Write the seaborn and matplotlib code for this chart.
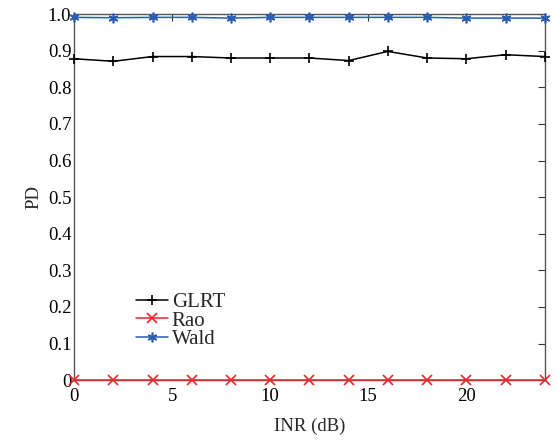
import numpy as np
import pandas as pd
import matplotlib
matplotlib.use('Agg')
import matplotlib.pyplot as plt
import seaborn as sns

# dados
inr = [0, 2, 4, 6, 8, 10, 12, 14, 16, 18, 20, 22, 24]
pd_glrt = [0.878, 0.871, 0.884, 0.884, 0.880, 0.880, 0.880, 0.873, 0.898, 0.880, 0.878, 0.889, 0.884]
pd_rao = [0, 0, 0, 0, 0, 0, 0, 0, 0, 0, 0, 0, 0]
pd_wald = [0.991, 0.990, 0.991, 0.991, 0.989, 0.991, 0.991, 0.991, 0.991, 0.991, 0.989, 0.989, 0.989]

series = ['GLRT', 'Rao', 'Wald']
df = pd.DataFrame({
    'INR': inr * 3,
    'PD': pd_glrt + pd_rao + pd_wald,
    'det': np.repeat(series, len(inr)),
})

sns.set_style('white')
plt.rcParams['font.family'] = ['Liberation Serif', 'DejaVu Serif']

fig = plt.figure(figsize=(5.57, 4.4), dpi=100)
ax = fig.add_axes([0.133, 0.136, 0.845, 0.832])

cores = {'GLRT': 'black', 'Rao': '#e8262a', 'Wald': '#2a5db0'}
marcas = {'GLRT': '+', 'Rao': 'x', 'Wald': (6, 2, 0)}
for s in series:
    sns.lineplot(data=df[df['det'] == s], x='INR', y='PD', ax=ax, color=cores[s],
                 marker=marcas[s], markersize=7, markeredgewidth=1.2,
                 markeredgecolor=cores[s], linewidth=1.1, label=s, clip_on=False)

ax.set_xlim(0, 24)
ax.set_ylim(0, 1)
ax.set_xticks([0, 5, 10, 15, 20])
ax.set_yticks(np.arange(0, 1.01, 0.1))
ax.set_yticklabels(['0', '0.1', '0.2', '0.3', '0.4', '0.5', '0.6', '0.7', '0.8', '0.9', '1.0'])
ax.tick_params(direction='in', length=5, width=0.8, labelsize=13.5, colors='#333333',
               top=True, right=True, labelcolor='black', pad=2)
ax.tick_params(axis='x', pad=6)
for sp in ax.spines.values():
    sp.set_color('#555555')
    sp.set_linewidth(1.0)
    sp.set_zorder(1)
ax.set_xlabel('INR (dB)', fontsize=13.5, labelpad=9)
ax.set_ylabel('PD', fontsize=13.5, labelpad=4)

ax.legend(loc='lower left', bbox_to_anchor=(0.11, 0.056), frameon=False,
          fontsize=15, handlelength=1.5, handletextpad=0.2, labelspacing=-0.05,
          borderpad=0)

plt.savefig('out.png', dpi=100)
